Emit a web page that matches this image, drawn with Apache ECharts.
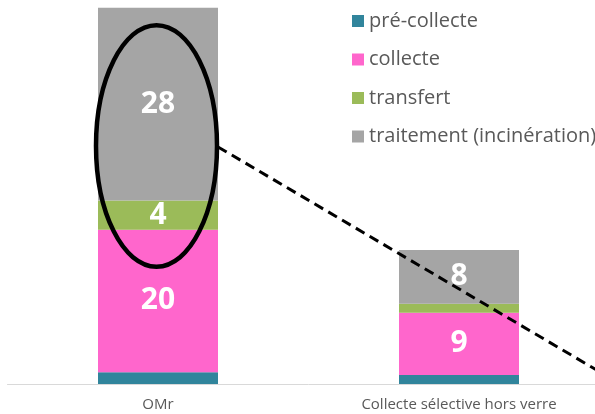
<!DOCTYPE html>
<html>
<head>
<meta charset="utf-8">
<script src="https://cdn.jsdelivr.net/npm/echarts@6/dist/echarts.min.js"></script>
<style>
  html, body { margin: 0; padding: 0; background: #fff; overflow: hidden; }
  /* a bit wider than the window: the right category is cut off like in the original */
  #main { width: 620px; height: 414px; }
</style>
</head>
<body>
<div id="main"></div>
<script>
var categories = ['OMr', 'Collecte sélective hors verre'];
var seriesNames = ['pré-collecte', 'collecte', 'transfert', 'traitement (incinération)'];
var preCollecte = [1.7, 1.3];
var collecte = [20.4, 8.9];
var transfert = [4.2, 1.3];
var traitement = [27.6, 7.7];
var colors = ['#31859C', '#FF66CC', '#9BBB59', '#A5A5A5'];

var chartDom = document.getElementById('main');
var myChart = echarts.init(chartDom);

var labelOption = {
  show: true,
  position: 'inside',
  color: '#fff',
  fontSize: 30,
  fontWeight: 'bold',
  fontFamily: 'Open Sans',
  formatter: function (p) {
    return p.value >= 3 ? Math.round(p.value) : '';
  }
};

var allData = [preCollecte, collecte, transfert, traitement];
var series = [];
for (var i = 0; i < seriesNames.length; i++) {
  series.push({
    name: seriesNames[i],
    type: 'bar',
    stack: 'total',
    barWidth: 120,
    itemStyle: { color: colors[i] },
    label: labelOption,
    data: allData[i]
  });
}

var option = {
  animation: false,
  textStyle: { fontFamily: 'Open Sans' },
  legend: {
    orient: 'vertical',
    left: 347,
    top: 5,
    itemWidth: 12,
    itemHeight: 12,
    itemGap: 16.5,
    icon: 'rect',
    textStyle: { fontSize: 20, color: '#595959', lineHeight: 22, fontFamily: 'Open Sans' },
    data: seriesNames
  },
  grid: { left: 7.5, width: 602, top: 0, bottom: 30 },
  xAxis: {
    type: 'category',
    data: categories,
    axisTick: { show: false },
    axisLine: { lineStyle: { color: '#D9D9D9', width: 1 } },
    axisLabel: { color: '#595959', fontSize: 15, margin: 13 }
  },
  yAxis: {
    type: 'value',
    min: 0,
    max: 55,
    show: false,
    splitLine: { show: false }
  },
  series: series
};
myChart.setOption(option);

// annotation: ellipse round the top of the OMr bar, dashed line going down to the right
var ellTop = myChart.convertToPixel({ gridIndex: 0 }, [0, 51.4]);
var ellBottom = myChart.convertToPixel({ gridIndex: 0 }, [0, 16.8]);
var cx = ellTop[0] - 1.5;
var cy = (ellTop[1] + ellBottom[1]) / 2;
var rx = 60.5;
var ry = (ellBottom[1] - ellTop[1]) / 2;
myChart.setOption({
  graphic: [
    {
      type: 'ellipse',
      z: 100,
      shape: { cx: cx, cy: cy, rx: rx, ry: ry },
      style: { fill: null, stroke: '#000', lineWidth: 4.5 }
    },
    {
      type: 'line',
      z: 100,
      shape: { x1: cx + rx + 1, y1: cy + 1, x2: 600, y2: 372 },
      style: { stroke: '#000', lineWidth: 3, lineDash: [10, 6] }
    }
  ]
});
</script>
</body>
</html>
